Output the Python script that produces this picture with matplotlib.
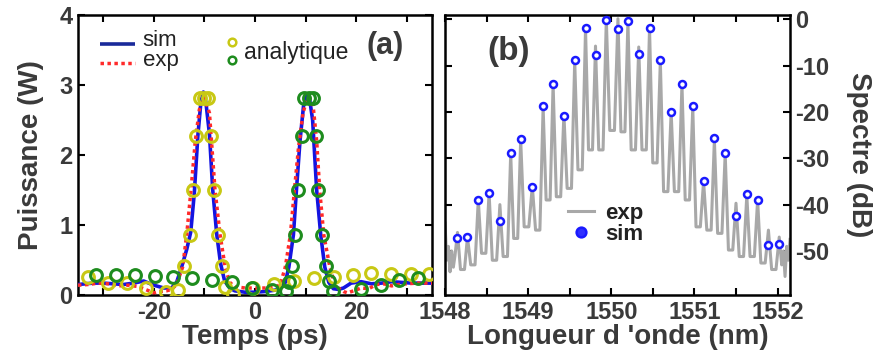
import matplotlib
matplotlib.use("Agg")
import matplotlib.pyplot as plt
from matplotlib.ticker import FixedLocator, FuncFormatter

plt.rcParams['font.family'] = ['Liberation Sans', 'DejaVu Sans']
plt.rcParams['axes.unicode_minus'] = False

# ---------------- panel (a) data ----------------
sim_t = [-35, -32, -30, -28, -26, -24, -22, -20, -18, -16.5, -15.5, -14.5, -13.5, -12.7, -12.0,
         -11.3, -10.7, -10.2, -9.7, -9.0, -8.35, -7.55, -6.8, -6.0, -5.0, -4.0, -2.0, 0, 2, 4, 5,
         6, 6.7, 7.6, 8.2, 8.9, 9.6, 10.2, 10.8, 11.4, 12.2, 13.0, 13.8, 14.6, 15.5, 16.5, 17.5,
         19, 21, 23, 25, 27, 29, 31, 33, 35]
sim_P = [0.15, 0.17, 0.17, 0.16, 0.15, 0.17, 0.20, 0.14, 0.10, 0.10, 0.18, 0.40, 0.65, 0.90, 1.45,
         2.27, 2.75, 2.90, 2.75, 2.30, 1.50, 0.86, 0.45, 0.20, 0.10, 0.06, 0.04, 0.04, 0.05, 0.07, 0.10,
         0.18, 0.40, 0.86, 1.50, 2.20, 2.70, 2.85, 2.80, 2.50, 1.50, 0.86, 0.40, 0.18, 0.09, 0.08, 0.10,
         0.17, 0.19, 0.16, 0.17, 0.19, 0.18, 0.17, 0.17, 0.17]

exp_t = [-35, -33, -31, -29, -27, -25, -23, -21, -20, -19, -17.5, -16.5, -15.5, -14.3, -13.5, -12.65,
         -11.8, -11.0, -10.0, -9.0, -7.9, -6.9, -5.9, -5.0, -4.0, -2, 0, 2, 4, 5, 6, 7.0, 7.8, 8.6,
         9.5, 10.3, 10.8, 11.5, 12.2, 12.8, 13.6, 14.8, 15.6, 16.5, 17.5, 18.3, 19.5, 21, 22.5, 24,
         25.5, 27, 28.5, 30, 32, 35]
exp_P = [0.14, 0.15, 0.17, 0.16, 0.13, 0.14, 0.12, 0.06, 0.03, 0.05, 0.06, 0.08, 0.15, 0.40, 0.86, 1.50,
         2.20, 2.65, 2.82, 2.60, 1.50, 0.86, 0.40, 0.18, 0.12, 0.10, 0.10, 0.10, 0.11, 0.15, 0.40, 0.86,
         1.50, 2.10, 2.60, 2.80, 2.82, 2.70, 2.20, 1.50, 0.86, 0.40, 0.20, 0.10, 0.05, 0.03, 0.06, 0.10,
         0.09, 0.15, 0.16, 0.13, 0.15, 0.16, 0.17, 0.17]

yellow_t = [-33.1, -29.1, -25.4, -21.5, -17.6, -15.2, -14.1, -12.9, -12.2, -11.7, -10.8, -10.0, -9.2,
            -8.75, -8.2, -7.4, -6.6, -5.9, -4.3, -0.3, 3.7, 7.7, 11.7, 15.6, 19.3, 22.9, 26.9, 30.9, 34.5]
yellow_P = [0.26, 0.17, 0.17, 0.10, 0.04, 0.07, 0.41, 0.86, 1.50, 2.27, 2.82, 2.82, 2.82,
            2.27, 1.50, 0.86, 0.41, 0.12, 0.02, 0.10, 0.16, 0.20, 0.24, 0.26, 0.28, 0.31, 0.30, 0.30, 0.30]

green_t = [-31.4, -27.4, -23.7, -19.8, -16.2, -12.4, -8.5, -4.6, -0.6, 3.4, 6.2, 6.8, 7.4, 7.9, 8.5,
           9.3, 9.7, 10.7, 11.5, 12.1, 12.5, 13.3, 14.0, 14.6, 15.4, 20.9, 24.9, 28.5, 32.3]
green_P = [0.29, 0.29, 0.29, 0.27, 0.26, 0.24, 0.21, 0.18, 0.10, 0.07, 0.06, 0.19, 0.41, 0.86, 1.50,
           2.27, 2.82, 2.82, 2.82, 2.27, 1.50, 0.86, 0.41, 0.20, 0.06, 0.08, 0.14, 0.21, 0.24]

# ---------------- panel (b) data ----------------
sim_lambda = [1548.15, 1548.27, 1548.40, 1548.53, 1548.66, 1548.79, 1548.91, 1549.05, 1549.18, 1549.30,
              1549.43, 1549.56, 1549.69, 1549.81, 1549.94, 1550.08, 1550.20, 1550.33, 1550.46, 1550.59,
              1550.72, 1550.85, 1550.98, 1551.11, 1551.24, 1551.37, 1551.50, 1551.63, 1551.76, 1551.89,
              1552.02]
sim_db = [-47.2, -46.9, -39.0, -37.6, -43.5, -28.8, -25.9, -36.2, -18.8, -14.0,
          -20.8, -8.8, -2.0, -7.8, -0.1, -2.2, -0.4, -7.6, -2.0, -8.8,
          -20.0, -14.0, -18.8, -34.8, -25.7, -28.8, -42.5, -37.7, -38.9, -48.8,
          -48.4]
exp_peak_db = [-46.0, -47.0, -39.0, -37.5, -40.0, -29.0, -26.0, -36.0, -19.0, -14.0,
               -20.5, -9.0, -2.0, -5.8, 0.0, 0.1, -0.5, -6.0, -2.0, -9.0,
               -20.0, -14.0, -19.0, -35.0, -26.0, -29.0, -39.7, -38.0, -39.0, -45.5,
               -47.0]
exp_valley_db = [-54.0, -53.0, -50.5, -52.0, -51.2, -47.3, -44.8, -45.5, -39.0, -38.3,
                 -36.5, -32.5, -28.2, -28.2, -24.0, -24.3, -28.2, -28.2, -31.0, -37.2,
                 -37.2, -39.0, -44.8, -45.5, -46.2, -49.8, -51.2, -51.2, -52.6, -54.0]
noise_left_lambda = [1548.00, 1548.02, 1548.04, 1548.06, 1548.08, 1548.10, 1548.12]
noise_left_db = [-44.0, -52.0, -49.0, -54.5, -50.0, -53.5, -51.0]
noise_right_lambda = [1552.05, 1552.07, 1552.09, 1552.11, 1552.13, 1552.15]
noise_right_db = [-53.0, -50.0, -55.5, -49.0, -52.0, -47.5]

# build exp trace vertex list from the read peak/valley values
exp_l = list(noise_left_lambda)
exp_d = list(noise_left_db)
for i, (lp, dp) in enumerate(zip(sim_lambda, exp_peak_db)):
    exp_l.append(lp)
    exp_d.append(dp)
    if i < len(exp_valley_db):
        gap = sim_lambda[i + 1] - lp
        exp_l += [lp + 0.3 * gap, lp + 0.7 * gap]
        exp_d += [exp_valley_db[i], exp_valley_db[i]]
exp_l += noise_right_lambda
exp_d += noise_right_db

TXT = '#3a3a3a'

fig = plt.figure(figsize=(8.75, 3.61), dpi=100)
axA = fig.add_axes([0.0891, 0.1828, 0.4046, 0.7756])
axB = fig.add_axes([0.5086, 0.1828, 0.3943, 0.7756])

for ax in (axA, axB):
    for s in ax.spines.values():
        s.set_linewidth(1.8)
    ax.tick_params(direction='in', length=5, width=1.5, top=True, bottom=True,
                   left=True, right=True, labelsize=17, labelcolor=TXT, pad=4)

# ---- panel (a)
ln_sim, = axA.plot(sim_t, sim_P, color='#1414e0', lw=2.6, zorder=3)
ln_exp, = axA.plot(exp_t, exp_P, color='#ff2a2a', lw=2.5, ls=(0, (1, 1)), zorder=4)
axA.plot(yellow_t, yellow_P, ls='none', marker='o', ms=8.5, mfc='none', mec='#c8c814', mew=2.2, zorder=5)
axA.plot(green_t, green_P, ls='none', marker='o', ms=8.5, mfc='none', mec='#1e8c1e', mew=2.2, zorder=5)
axA.set_xlim(-35, 35)
axA.set_ylim(0, 4)
axA.xaxis.set_major_locator(FixedLocator([-30, -20, -10, 0, 10, 20, 30]))
axA.xaxis.set_major_formatter(FuncFormatter(lambda v, p: '%d' % v if v in (-20, 0, 20) else ''))
axA.yaxis.set_major_locator(FixedLocator([0, 1, 2, 3, 4]))
for lab in axA.get_xticklabels() + axA.get_yticklabels():
    lab.set_fontweight('bold')
axA.set_xlabel('Temps (ps)', fontsize=20, fontweight='bold', color=TXT, labelpad=0)
axA.set_ylabel('Puissance (W)', fontsize=20, fontweight='bold', color=TXT, labelpad=11)

# legend (a): sim / exp
axA.plot([0.063, 0.16], [0.898, 0.898], transform=axA.transAxes, color='#1a2a9a', lw=2.6,
         solid_capstyle='butt', clip_on=False)
axA.plot([0.063, 0.16], [0.83, 0.83], transform=axA.transAxes, color='#ff2a2a', lw=2.5,
         ls=(0, (1, 1)), clip_on=False)
axA.text(0.183, 0.908, 'sim', transform=axA.transAxes, fontsize=16, color='#222222',
         va='center', ha='left')
axA.text(0.183, 0.838, 'exp', transform=axA.transAxes, fontsize=16, color='#222222',
         va='center', ha='left')
# legend (a): analytique
axA.plot([0.435], [0.905], transform=axA.transAxes, ls='none', marker='o', ms=5.5,
         mfc='none', mec='#c8c814', mew=1.8, clip_on=False)
axA.plot([0.435], [0.84], transform=axA.transAxes, ls='none', marker='o', ms=5.5,
         mfc='none', mec='#1e8c1e', mew=1.8, clip_on=False)
axA.text(0.47, 0.866, 'analytique', transform=axA.transAxes, fontsize=16.5,
         color='#222222', va='center', ha='left')
axA.text(0.867, 0.89, '(a)', transform=axA.transAxes, fontsize=22, fontweight='bold',
         color=TXT, va='center', ha='center')

# ---- panel (b)
ln_g, = axB.plot(exp_l, exp_d, color='#a8a8a8', lw=2.2, zorder=2)
ln_b, = axB.plot(sim_lambda, sim_db, ls='none', marker='o', ms=5, mfc='white', mec='#1a1aff',
                 mew=1.8, zorder=3)
axB.set_xlim(1548, 1552.15)
axB.set_ylim(-59.5, 0.9)
axB.xaxis.set_major_locator(FixedLocator([1548, 1548.5, 1549, 1549.5, 1550, 1550.5, 1551, 1551.5, 1552]))
axB.xaxis.set_major_formatter(FuncFormatter(lambda v, p: '%d' % v if abs(v - round(v)) < 1e-6 else ''))
axB.yaxis.set_major_locator(FixedLocator([-50, -40, -30, -20, -10, 0]))
axB.yaxis.tick_right()
axB.tick_params(left=True, right=True, labelleft=False, labelright=True)
axB.yaxis.set_label_position('right')
for lab in axB.get_xticklabels() + axB.get_yticklabels():
    lab.set_fontweight('bold')
axB.set_xlabel("Longueur d 'onde (nm)", fontsize=20, fontweight='bold', color=TXT, labelpad=0)
axB.set_ylabel('Spectre (dB)', fontsize=20, fontweight='bold', color=TXT, rotation=270,
               labelpad=30)
legB = axB.legend([ln_g, ln_b], ['exp', 'sim'], loc='upper left', bbox_to_anchor=(0.33, 0.36),
                  frameon=False, fontsize=16, handlelength=1.2, handletextpad=0.5,
                  labelspacing=0.0, borderaxespad=0, markerscale=1.0)
for t in legB.get_texts():
    t.set_fontweight('bold')
    t.set_color('#222222')
legB.legend_handles[1].set_markerfacecolor('#3030ff')
legB.legend_handles[1].set_markersize(7)
axB.text(0.185, 0.87, '(b)', transform=axB.transAxes, fontsize=24, fontweight='bold',
         color=TXT, va='center', ha='center')

fig.savefig('out.png', dpi=100)
